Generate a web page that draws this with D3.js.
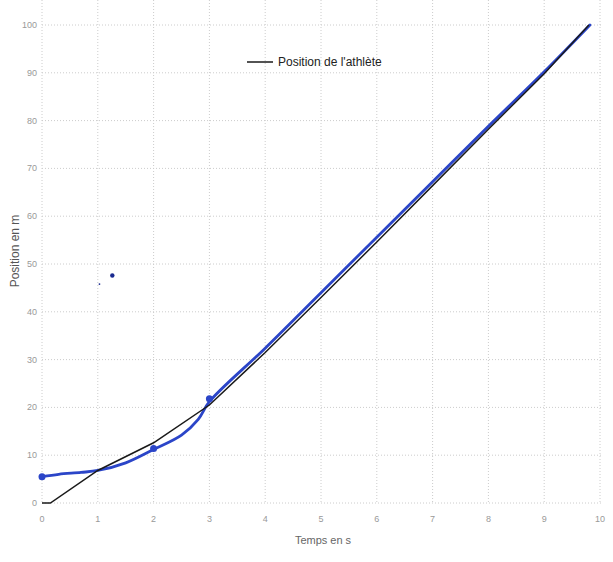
<!DOCTYPE html>
<html>
<head>
<meta charset="utf-8">
<script src="https://cdn.jsdelivr.net/npm/d3@7"></script>
<style>
  body { margin: 0; background: #fff; }
  svg { font-family: "Liberation Sans", Arial, sans-serif; }
</style>
</head>
<body>
<div id="chart"></div>
<script>
// printed curve: position of the athlete
const timeBlack = [0, 0.15, 1, 2, 3, 4, 5, 6, 7, 8, 9, 9.8];
const posBlack  = [0, 0, 6.8, 12.6, 20.5, 31.5, 43, 54.6, 66.4, 78.2, 89.8, 100];

// hand-drawn blue curve on the scan
const timeBlue = [0, 0.3, 0.7, 1, 1.5, 2, 2.5, 2.8, 3, 4, 5, 6, 7, 8, 9, 9.82];
const posBlue  = [5.5, 6.0, 6.4, 6.8, 8.4, 11.2, 14.2, 17.5, 21.2, 32.4, 44, 55.6, 67.2, 78.8, 90.2, 100];

// blue dots drawn by hand (last two are stray marks)
const dotTime = [0, 2, 3, 1.26, 1.03];
const dotPos  = [5.5, 11.4, 21.8, 47.6, 45.8];
const dotSize = [3.5, 3.5, 3.5, 2.2, 0.9];

const xTicks = [0, 1, 2, 3, 4, 5, 6, 7, 8, 9, 10];
const yTicks = [0, 10, 20, 30, 40, 50, 60, 70, 80, 90, 100];

const width = 613;
const height = 562;

const svg = d3.select("#chart")
    .append("svg")
    .attr("width", width)
    .attr("height", height);

const x = d3.scaleLinear().domain([0, 10]).range([42, 600]);
const y = d3.scaleLinear().domain([0, 100]).range([503, 25]);

// grid
svg.append("g")
    .selectAll("line")
    .data(xTicks)
    .enter().append("line")
    .attr("x1", d => x(d)).attr("x2", d => x(d))
    .attr("y1", 0).attr("y2", y(0))
    .attr("stroke", "#cccccc")
    .attr("stroke-dasharray", "1,2");

svg.append("g")
    .selectAll("line")
    .data(yTicks)
    .enter().append("line")
    .attr("x1", x(0)).attr("x2", x(10) + 2)
    .attr("y1", d => y(d)).attr("y2", d => y(d))
    .attr("stroke", "#cccccc")
    .attr("stroke-dasharray", "1,2");

// tick labels
svg.append("g")
    .selectAll("text")
    .data(xTicks)
    .enter().append("text")
    .attr("x", d => x(d))
    .attr("y", 522)
    .attr("text-anchor", "middle")
    .attr("font-size", 9)
    .attr("fill", "#999")
    .text(d => d);

svg.append("g")
    .selectAll("text")
    .data(yTicks)
    .enter().append("text")
    .attr("x", 37)
    .attr("y", d => y(d) + 3)
    .attr("text-anchor", "end")
    .attr("font-size", 9)
    .attr("fill", "#999")
    .text(d => d);

// axis titles
svg.append("text")
    .attr("x", 323)
    .attr("y", 544)
    .attr("text-anchor", "middle")
    .attr("font-size", 11)
    .attr("fill", "#666")
    .text("Temps en s");

svg.append("text")
    .attr("transform", "translate(19,251) rotate(-90)")
    .attr("text-anchor", "middle")
    .attr("font-size", 12)
    .attr("fill", "#555")
    .text("Position en m");

// lines
const blackData = timeBlack.map((t, i) => [t, posBlack[i]]);
const blueData = timeBlue.map((t, i) => [t, posBlue[i]]);

const line = d3.line()
    .x(d => x(d[0]))
    .y(d => y(d[1]));

svg.append("path")
    .datum(blueData)
    .attr("d", line.curve(d3.curveCatmullRom))
    .attr("fill", "none")
    .attr("stroke", "#2b45c8")
    .attr("stroke-width", 2.8)
    .attr("stroke-linecap", "round");

svg.append("path")
    .datum(blackData)
    .attr("d", line.curve(d3.curveLinear))
    .attr("fill", "none")
    .attr("stroke", "#1a1a1a")
    .attr("stroke-width", 1.5);

svg.append("g")
    .selectAll("circle")
    .data(dotTime)
    .enter().append("circle")
    .attr("cx", d => x(d))
    .attr("cy", (d, i) => y(dotPos[i]))
    .attr("r", (d, i) => dotSize[i])
    .attr("fill", (d, i) => i >= 3 ? "#1a2a90" : "#2b45c8");

// legend
svg.append("line")
    .attr("x1", 247).attr("x2", 273)
    .attr("y1", 62).attr("y2", 62)
    .attr("stroke", "#1a1a1a")
    .attr("stroke-width", 1.5);

svg.append("text")
    .attr("x", 278)
    .attr("y", 66)
    .attr("font-size", 12)
    .attr("fill", "#222")
    .text("Position de l'athlète");
</script>
</body>
</html>
